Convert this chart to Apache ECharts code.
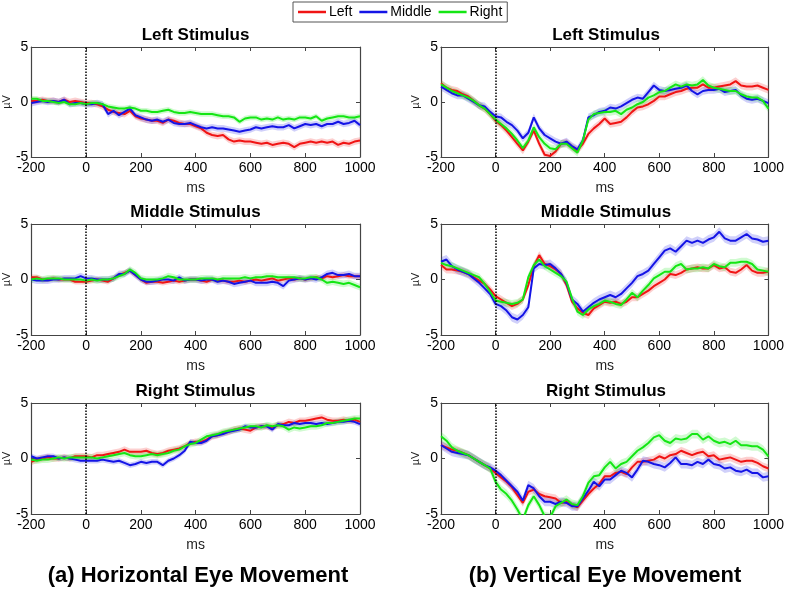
<!DOCTYPE html>
<html>
<head>
<meta charset="utf-8">
<script src="https://cdn.jsdelivr.net/npm/echarts@6/dist/echarts.min.js"></script>
<style>
  html, body { margin: 0; padding: 0; background: #fff; }
  #chart { width: 787px; height: 590px; }
</style>
</head>
<body>
<div id="chart"></div>
<script>
// time axis (ms), one sample every 20 ms
const times = [-200,-180,-160,-140,-120,-100,-80,-60,-40,-20,0,20,40,60,80,100,120,140,160,180,200,
  220,240,260,280,300,320,340,360,380,400,420,440,460,480,500,520,540,560,580,600,
  620,640,660,680,700,720,740,760,780,800,820,840,860,880,900,920,940,960,980,1000];
const conditions = ['Left', 'Middle', 'Right'];

// (a) horizontal eye movement
const hLeftRed = [0.1,0.1,0.2,0.1,0.1,0.0,0.2,0.0,0.1,0.0,-0.1,-0.1,-0.2,-0.4,-0.7,-0.9,-1.0,-1.1,-0.8,-1.3,-1.5,
  -1.6,-1.7,-1.7,-1.9,-1.6,-1.7,-1.9,-2.0,-2.0,-2.2,-2.4,-2.8,-3.0,-3.1,-3.0,-3.4,-3.6,-3.5,-3.6,-3.6,
  -3.7,-3.8,-3.7,-3.9,-3.8,-3.7,-3.8,-4.1,-3.8,-3.7,-3.6,-3.7,-3.6,-3.7,-3.6,-3.9,-3.7,-3.8,-3.6,-3.5];
const hLeftBlue = [-0.1,0.0,0.1,0.0,0.1,0.0,0.2,-0.2,-0.1,-0.1,-0.2,-0.2,-0.1,-0.2,-1.1,-0.8,-1.2,-0.9,-0.6,-1.2,-1.4,
  -1.6,-1.7,-1.6,-1.8,-1.6,-1.9,-2.0,-2.0,-1.9,-2.1,-2.3,-2.4,-2.3,-2.4,-2.4,-2.5,-2.6,-2.7,-2.6,-2.5,
  -2.3,-2.4,-2.3,-2.2,-2.3,-2.3,-2.1,-2.4,-2.2,-2.0,-2.1,-2.0,-2.2,-2.0,-2.0,-1.8,-2.0,-1.9,-1.7,-2.1];
const hLeftGreen = [0.3,0.3,0.1,0.1,0.0,-0.1,0.0,-0.2,-0.2,-0.1,-0.2,-0.1,-0.1,-0.2,-0.4,-0.5,-0.6,-0.6,-0.5,-0.6,-0.8,
  -0.8,-0.9,-0.9,-0.8,-0.7,-0.9,-1.0,-1.0,-0.9,-1.0,-1.1,-1.1,-1.1,-1.2,-1.3,-1.3,-1.4,-1.8,-1.5,-1.4,
  -1.4,-1.6,-1.5,-1.6,-1.4,-1.6,-1.5,-1.6,-1.4,-1.4,-1.5,-1.3,-1.7,-1.5,-1.4,-1.3,-1.3,-1.4,-1.4,-1.3];

const hMidRed = [0.2,0.2,0.0,0.0,0.1,0.0,0.0,0.0,-0.2,-0.2,-0.2,-0.1,0.0,-0.1,-0.2,0.1,0.4,0.6,0.8,0.4,0.0,
  -0.3,-0.2,-0.2,-0.3,-0.2,-0.1,-0.2,-0.1,0.0,0.0,-0.1,-0.2,0.0,-0.1,-0.1,-0.2,-0.2,-0.1,-0.2,-0.1,
  0.0,-0.1,0.0,0.1,-0.1,0.0,0.1,0.0,0.1,0.0,0.1,0.2,0.1,0.3,0.2,0.3,0.4,0.3,0.3,0.3];
const hMidBlue = [0.0,-0.1,-0.1,-0.1,0.0,0.0,0.1,0.1,0.1,0.3,0.1,0.1,0.0,0.0,0.0,0.1,0.5,0.5,0.8,0.4,0.0,
  -0.2,-0.2,-0.1,0.0,0.0,-0.1,0.2,-0.1,0.0,0.0,-0.1,0.0,0.0,-0.2,-0.1,-0.2,-0.4,-0.3,-0.2,-0.1,
  -0.3,-0.3,-0.3,-0.2,-0.3,-0.6,-0.1,0.0,0.1,0.0,0.1,0.0,0.2,0.5,0.6,0.4,0.4,0.5,0.3,0.3];
const hMidGreen = [0.0,0.1,0.0,0.1,0.1,0.1,0.0,0.0,0.0,0.0,-0.1,0.0,-0.1,0.0,0.0,0.1,0.3,0.5,0.9,0.6,0.1,
  0.0,0.0,0.0,0.1,0.3,0.2,0.0,0.0,0.0,0.0,0.1,0.1,0.1,0.0,0.1,0.1,0.1,0.1,0.2,0.1,
  0.2,0.2,0.3,0.3,0.2,0.2,0.2,0.2,0.1,0.1,0.2,0.2,0.0,-0.3,-0.2,-0.3,-0.4,-0.3,-0.5,-0.7];

const hRightRed = [-0.3,-0.1,0.0,0.1,0.0,0.0,0.1,0.0,0.2,0.2,0.2,0.1,0.3,0.3,0.4,0.5,0.6,0.8,0.6,0.6,0.6,
  0.7,0.5,0.4,0.5,0.7,0.8,0.9,1.1,1.4,1.5,1.5,1.7,2.0,2.1,2.3,2.4,2.6,2.7,2.6,2.5,
  2.8,2.9,2.9,2.8,3.0,3.1,3.3,3.2,3.4,3.4,3.5,3.6,3.7,3.5,3.4,3.4,3.5,3.4,3.5,3.3];
const hRightBlue = [0.2,0.0,0.1,0.2,0.2,0.0,0.1,0.0,-0.1,-0.2,-0.2,-0.2,-0.2,-0.1,-0.2,-0.3,-0.2,-0.4,-0.6,-0.5,-0.3,
  -0.4,-0.3,-0.3,-0.6,-0.2,0.0,0.3,0.7,1.5,1.4,1.4,1.6,2.0,2.1,2.2,2.4,2.5,2.6,2.9,2.8,
  2.8,2.9,2.9,2.6,3.1,3.0,3.0,3.2,3.1,3.2,3.2,3.1,3.2,3.1,3.2,3.3,3.3,3.4,3.3,3.1];
const hRightGreen = [-0.1,-0.2,-0.1,-0.1,0.0,0.1,0.0,0.1,0.1,0.1,0.1,0.1,0.0,0.1,0.2,0.3,0.4,0.5,0.3,0.2,0.2,
  0.3,0.4,0.3,0.4,0.5,0.7,0.8,1.1,1.3,1.4,1.7,2.0,2.1,2.2,2.4,2.5,2.6,2.7,2.8,2.9,
  2.9,2.8,3.0,2.9,3.0,2.9,2.6,2.8,2.7,2.8,2.9,2.9,3.0,3.2,3.2,3.3,3.4,3.5,3.6,3.6];

// (b) vertical eye movement
const vLeftRed = [1.7,1.3,1.1,1.0,0.7,0.5,0.1,-0.3,-0.6,-1.1,-1.7,-2.1,-2.6,-3.2,-3.8,-4.4,-3.6,-2.6,-3.8,-4.8,-4.9,
  -4.5,-3.8,-3.7,-4.1,-4.4,-3.8,-2.9,-2.4,-2.0,-1.5,-2.0,-1.9,-1.8,-1.4,-0.9,-0.5,-0.4,-0.2,0.1,0.5,
  0.5,0.7,0.9,1.0,1.2,1.3,1.3,1.6,1.3,1.3,1.4,1.5,1.6,1.9,1.5,1.4,1.4,1.5,1.3,1.1];
const vLeftBlue = [1.4,1.1,0.8,0.6,0.6,0.3,0.0,-0.3,-0.4,-0.9,-1.3,-1.4,-1.8,-2.1,-2.6,-3.3,-2.8,-1.4,-2.4,-3.0,-3.3,
  -3.6,-3.8,-3.6,-4.0,-4.3,-3.5,-1.4,-1.2,-0.9,-0.8,-0.5,-0.6,-0.4,-0.1,0.2,0.4,0.3,0.9,1.5,1.1,
  1.0,1.1,1.2,1.3,1.5,1.0,0.7,1.0,1.1,1.1,1.2,0.9,1.0,1.1,0.6,0.3,0.2,0.3,0.1,-0.1];
const vLeftGreen = [1.6,1.3,1.0,0.8,0.6,0.4,0.1,-0.3,-0.6,-1.1,-1.6,-2.0,-2.4,-2.9,-3.5,-4.2,-3.5,-2.3,-3.2,-3.8,-4.2,
  -4.3,-3.8,-3.8,-4.2,-4.6,-3.5,-1.6,-1.1,-1.0,-0.9,-0.9,-0.8,-1.1,-0.7,-0.5,-0.2,0.0,0.4,0.6,0.9,
  1.0,1.3,1.6,1.4,1.6,1.5,1.6,2.0,1.5,1.3,1.2,1.1,1.0,1.0,0.7,0.5,0.4,0.4,0.1,-0.6];

const vMidRed = [1.3,0.9,0.9,0.8,0.7,0.5,0.2,-0.1,-0.4,-0.9,-1.5,-1.8,-2.1,-2.4,-2.2,-1.8,-0.5,1.2,2.2,1.4,1.2,
  0.9,0.5,-0.5,-2.0,-2.6,-3.0,-3.2,-2.6,-2.3,-2.0,-2.1,-2.0,-2.2,-2.0,-1.6,-1.6,-1.3,-1.0,-0.6,-0.3,
  0.0,0.5,0.4,0.6,0.9,1.0,1.1,1.0,1.0,1.3,1.0,1.1,0.7,0.6,0.9,1.3,0.8,0.6,0.6,0.7];
const vMidBlue = [1.6,1.8,1.2,0.9,0.7,0.5,0.1,-0.3,-0.8,-1.3,-2.2,-2.4,-2.8,-3.4,-3.6,-3.2,-2.5,1.0,1.4,1.3,1.4,
  1.0,0.5,-0.3,-1.8,-2.2,-2.9,-2.5,-2.1,-1.8,-1.6,-1.4,-1.6,-1.3,-0.8,-0.3,0.3,0.5,0.8,1.4,2.0,
  2.6,2.8,2.5,3.0,3.5,3.3,3.5,3.3,3.6,3.8,4.3,3.7,3.5,3.5,3.8,4.1,3.7,3.6,3.4,3.5];
const vMidGreen = [1.5,1.3,1.2,1.0,0.8,0.6,0.4,0.2,-0.4,-1.1,-1.9,-2.0,-2.1,-2.2,-2.1,-1.8,0.2,1.3,1.8,1.2,0.9,
  0.6,0.3,-0.2,-1.7,-2.9,-3.2,-2.7,-2.4,-2.2,-1.9,-2.0,-2.2,-2.3,-1.8,-1.2,-1.6,-1.0,-0.5,0.1,0.4,
  0.7,0.7,1.2,1.4,0.9,1.0,1.0,1.1,1.0,1.4,1.2,1.1,1.5,1.5,1.6,1.6,1.4,0.9,0.8,0.7];

const vRightRed = [1.2,1.0,0.8,0.7,0.5,0.3,0.0,-0.3,-0.6,-0.9,-1.3,-1.7,-2.1,-2.6,-3.3,-4.0,-3.0,-2.8,-3.2,-3.4,-3.5,
  -3.6,-4.0,-3.9,-4.2,-4.4,-3.8,-3.2,-2.7,-2.3,-1.6,-1.6,-1.3,-1.2,-1.4,-0.8,-0.3,-0.3,-0.2,-0.1,0.2,
  0.0,0.3,0.4,0.7,0.5,0.3,0.5,0.6,0.2,0.3,-0.1,0.0,0.1,-0.1,-0.3,-0.2,-0.2,-0.4,-0.7,-0.9];
const vRightBlue = [1.2,0.9,0.6,0.5,0.4,0.3,0.0,-0.3,-0.6,-0.8,-1.1,-1.5,-2.0,-2.5,-3.0,-3.8,-2.4,-2.7,-3.4,-3.9,-3.9,
  -4.1,-3.9,-4.0,-4.3,-4.3,-3.6,-2.9,-2.1,-2.5,-1.9,-1.9,-1.5,-1.1,-1.3,-1.7,-1.0,-0.2,-0.3,-0.5,-0.6,
  -0.8,-0.4,0.1,-0.5,-0.5,-0.6,-0.3,-0.5,-0.1,-0.5,-0.6,-0.9,-0.8,-1.1,-1.2,-1.0,-1.3,-1.3,-1.7,-1.6];
const vRightGreen = [2.0,1.6,1.0,0.7,0.5,0.3,0.0,-0.3,-0.6,-0.9,-2.1,-2.8,-3.2,-3.8,-4.6,-5.5,-4.2,-3.4,-4.2,-5.2,-5.3,
  -4.3,-4.0,-3.7,-4.1,-4.2,-3.4,-2.2,-1.6,-1.5,-0.8,-0.3,-0.9,-0.5,-0.3,0.2,0.7,1.0,1.4,1.9,2.1,
  1.6,1.4,1.8,1.7,1.8,2.2,2.2,1.7,2.0,1.6,1.4,1.5,1.3,1.6,1.2,1.2,1.1,1.1,0.8,0.2];

// half width of the shaded error band, per condition
const semHLeft = [0.3, 0.3, 0.25];
const semHMid = [0.25, 0.3, 0.3];
const semHRight = [0.3, 0.25, 0.3];
const semVLeft = [0.35, 0.35, 0.35];
const semVMid = [0.35, 0.4, 0.35];
const semVRight = [0.35, 0.4, 0.4];

const colors = ['#f01414', '#1414e6', '#14e614'];
const bandColors = ['rgba(240,20,20,0.2)', 'rgba(20,20,230,0.2)', 'rgba(20,230,20,0.2)'];
const FONT = 'Liberation Sans, Arial, sans-serif';

const panels = [
  {title: 'Left Stimulus', col: 0, row: 0, lines: [hLeftRed, hLeftBlue, hLeftGreen], sem: semHLeft},
  {title: 'Middle Stimulus', col: 0, row: 1, lines: [hMidRed, hMidBlue, hMidGreen], sem: semHMid},
  {title: 'Right Stimulus', col: 0, row: 2, lines: [hRightRed, hRightBlue, hRightGreen], sem: semHRight},
  {title: 'Left Stimulus', col: 1, row: 0, lines: [vLeftRed, vLeftBlue, vLeftGreen], sem: semVLeft},
  {title: 'Middle Stimulus', col: 1, row: 1, lines: [vMidRed, vMidBlue, vMidGreen], sem: semVMid},
  {title: 'Right Stimulus', col: 1, row: 2, lines: [vRightRed, vRightBlue, vRightGreen], sem: semVRight}
];

const colLeft = [31, 441], colWidth = [329, 330];
const rowTop = [47, 224, 403], rowHeight = [110, 111, 111];

let grid = [], xAxis = [], yAxis = [], series = [];
let titles = [
  {text: '(a) Horizontal Eye Movement', left: 198, top: 565, textAlign: 'center', padding: 0,
    textStyle: {fontFamily: FONT, fontSize: 22, fontWeight: 'bold', color: '#000'}},
  {text: '(b) Vertical Eye Movement', left: 605, top: 565, textAlign: 'center', padding: 0,
    textStyle: {fontFamily: FONT, fontSize: 22, fontWeight: 'bold', color: '#000'}}
];

const axisCol = '#444';
panels.forEach((p, k) => {
  grid.push({left: colLeft[p.col], top: rowTop[p.row], width: colWidth[p.col], height: rowHeight[p.row]});
  titles.push({text: p.title, left: colLeft[p.col] + colWidth[p.col] / 2, top: rowTop[p.row] - 20,
    textAlign: 'center', padding: 0,
    textStyle: {fontFamily: FONT, fontSize: 17, fontWeight: 'bold', color: '#000'}});
  // bottom / left axes with labels
  xAxis.push({gridIndex: k, type: 'value', min: -200, max: 1000, interval: 200, position: 'bottom',
    name: 'ms', nameLocation: 'middle', nameGap: 24,
    nameTextStyle: {fontFamily: FONT, fontSize: 14, color: '#222'},
    axisLine: {show: true, onZero: false, lineStyle: {color: axisCol, width: 1.2}},
    axisTick: {show: true, inside: true, length: 4, lineStyle: {color: axisCol}},
    axisLabel: {fontFamily: FONT, fontSize: 14, color: '#000', margin: 4, formatter: v => String(v)},
    splitLine: {show: false}});
  yAxis.push({gridIndex: k, type: 'value', min: -5, max: 5, interval: 5, position: 'left',
    name: 'µV', nameLocation: 'middle', nameGap: 16, nameRotate: 90,
    nameTextStyle: {fontFamily: FONT, fontSize: 11, color: '#222'},
    axisLine: {show: true, onZero: false, lineStyle: {color: axisCol, width: 1.2}},
    axisTick: {show: true, inside: true, length: 4, lineStyle: {color: axisCol}},
    axisLabel: {fontFamily: FONT, fontSize: 14, color: '#000', margin: 3},
    splitLine: {show: false}});
  // mirrored top / right axes (box + ticks only)
  xAxis.push({gridIndex: k, type: 'value', min: -200, max: 1000, interval: 200, position: 'top',
    axisLine: {show: true, onZero: false, lineStyle: {color: axisCol, width: 1.2}},
    axisTick: {show: true, inside: true, length: 4, lineStyle: {color: axisCol}},
    axisLabel: {show: false}, splitLine: {show: false}});
  yAxis.push({gridIndex: k, type: 'value', min: -5, max: 5, interval: 5, position: 'right',
    axisLine: {show: true, onZero: false, lineStyle: {color: axisCol, width: 1.2}},
    axisTick: {show: true, inside: true, length: 4, lineStyle: {color: axisCol}},
    axisLabel: {show: false}, splitLine: {show: false}});

  const xi = k * 2, yi = k * 2;
  p.lines.forEach((vals, c) => {
    const sem = p.sem[c];
    series.push({
      type: 'custom', name: conditions[c] + ' band', xAxisIndex: xi, yAxisIndex: yi,
      clip: true, silent: true, z: 1, data: [[0, 0]],
      renderItem: (params, api) => {
        const up = times.map((t, i) => api.coord([t, vals[i] + sem]));
        const lo = times.map((t, i) => api.coord([t, vals[i] - sem])).reverse();
        return {type: 'polygon', shape: {points: up.concat(lo)}, style: {fill: bandColors[c]}};
      }
    });
  });
  p.lines.forEach((vals, c) => {
    const s = {
      type: 'line', name: conditions[c], xAxisIndex: xi, yAxisIndex: yi,
      data: times.map((t, i) => [t, vals[i]]),
      showSymbol: false, symbol: 'none', clip: true, z: 3,
      lineStyle: {color: colors[c], width: 2}, itemStyle: {color: colors[c]}
    };
    if (c === 0) {
      s.markLine = {silent: true, symbol: ['none', 'none'], label: {show: false},
        lineStyle: {color: '#000', type: 'dotted', width: 1.5},
        data: [{xAxis: 0}]};
    }
    series.push(s);
  });
});

const chart = echarts.init(document.getElementById('chart'));
chart.setOption({
  animation: false,
  backgroundColor: '#fff',
  title: titles,
  legend: {
    data: conditions, left: 293, top: 2, padding: [3, 5], itemGap: 7,
    itemWidth: 28, itemHeight: 2.5, icon: 'rect',
    borderColor: '#555', borderWidth: 1,
    textStyle: {fontFamily: FONT, fontSize: 14, color: '#000', padding: [0, 0, 0, -2]}
  },
  grid: grid,
  xAxis: xAxis,
  yAxis: yAxis,
  series: series
});
</script>
</body>
</html>
